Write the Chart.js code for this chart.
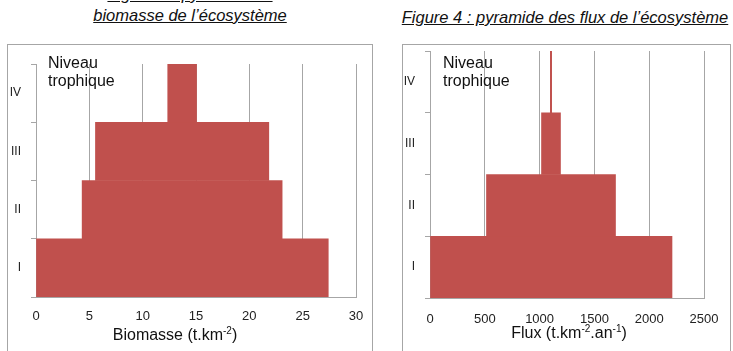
<!DOCTYPE html>
<html>
<head>
<meta charset="utf-8">
<script src="https://cdn.jsdelivr.net/npm/chart.js@4/dist/chart.umd.min.js"></script>
<style>
  body { margin: 0; width: 733px; height: 351px; overflow: hidden; position: relative; background: #fff;
         font-family: 'Liberation Sans', Arial, sans-serif; color: #111; }
  .title { position: absolute; font-size: 16.5px; font-style: italic; text-decoration: underline;
           text-align: center; line-height: 21px; white-space: nowrap; }
  .box { position: absolute; border: 1px solid #a6a6a6; border-bottom: none; }
  canvas { position: absolute; }
  .label { position: absolute; font-size: 16px; line-height: 18px; white-space: nowrap; }
  .axis-title { position: absolute; font-size: 16px; white-space: nowrap; text-align: center; }
</style>
</head>
<body>
<div class="title" style="left:40px; top:-16px; width:300px;">Figure 3 : pyramide de<br>biomasse de l’écosystème</div>
<div class="title" style="left:365px; top:7px; width:400px;">Figure 4 : pyramide des flux de l’écosystème</div>

<div class="box" style="left:7px; top:44px; width:364px; height:320px;"></div>
<div class="box" style="left:402px; top:44px; width:327px; height:320px;"></div>

<canvas id="biomasseChart" width="363" height="305" style="left:8px; top:45px;"></canvas>
<canvas id="fluxChart" width="326" height="305" style="left:403px; top:45px;"></canvas>

<div class="label" style="left:48px; top:54px;">Niveau<br>trophique</div>
<div class="label" style="left:443px; top:54px;">Niveau<br>trophique</div>

<div class="axis-title" style="left:75px; top:325px; width:200px;">Biomasse (t.km<sup style="font-size:10px">-2</sup>)</div>
<div class="axis-title" style="left:469px; top:323px; width:200px;">Flux (t.km<sup style="font-size:10px">-2</sup>.an<sup style="font-size:10px">-1</sup>)</div>

<script>
const levels = ['I', 'II', 'III', 'IV'];
const biomasse = [27.4, 18.75, 16.25, 2.7];
const biomasseTicks = [0, 5, 10, 15, 20, 25, 30];
const flux = [2208, 1177, 173, 12];
const fluxTicks = [0, 500, 1000, 1500, 2000, 2500];

const barColor = '#c0504d';
const gridColor = '#a6a6a6';

// invisible left part so every level is centred on the first one
function offsets(values) {
    return values.map(v => (values[0] - v) / 2);
}

function makePyramid(canvasId, values, ticks, pad, yWidth, xHeight, labelPad) {
    const ctx = document.getElementById(canvasId).getContext('2d');
    return new Chart(ctx, {
        type: 'bar',
        data: {
            labels: levels,
            datasets: [{
                data: offsets(values),
                backgroundColor: 'rgba(0,0,0,0)',
                barPercentage: 1,
                categoryPercentage: 1
            }, {
                data: values,
                backgroundColor: barColor,
                barPercentage: 1,
                categoryPercentage: 1
            }]
        },
        options: {
            indexAxis: 'y',
            responsive: false,
            animation: false,
            layout: { padding: pad },
            plugins: { legend: { display: false }, tooltip: { enabled: false } },
            scales: {
                x: {
                    stacked: true,
                    min: ticks[0],
                    max: ticks[ticks.length - 1],
                    afterBuildTicks: scale => { scale.ticks = ticks.map(v => ({ value: v })); },
                    afterFit: scale => {
                        scale.height = xHeight;
                        scale.paddingLeft = 0;
                        scale.paddingRight = 0;
                    },
                    grid: { color: gridColor, drawTicks: false },
                    border: { display: true, color: gridColor },
                    ticks: {
                        color: '#222',
                        font: { family: 'Liberation Sans', size: 13 },
                        padding: labelPad,
                        callback: v => String(v)
                    }
                },
                y: {
                    stacked: true,
                    reverse: true,
                    afterFit: scale => {
                        scale.width = yWidth;
                        scale.paddingTop = 0;
                        scale.paddingBottom = 0;
                    },
                    grid: { offset: true, drawOnChartArea: false, color: gridColor, tickLength: 5 },
                    border: { display: true, color: gridColor },
                    ticks: { color: '#222', font: { family: 'Liberation Sans', size: 12 }, padding: 10 }
                }
            }
        }
    });
}

makePyramid('biomasseChart', biomasse, biomasseTicks, { top: 19, right: 15, left: 0, bottom: 0 }, 28, 53, 12);
makePyramid('fluxChart', flux, fluxTicks, { top: 6, right: 25, left: 0, bottom: 0 }, 27, 52, 14);
</script>
</body>
</html>
